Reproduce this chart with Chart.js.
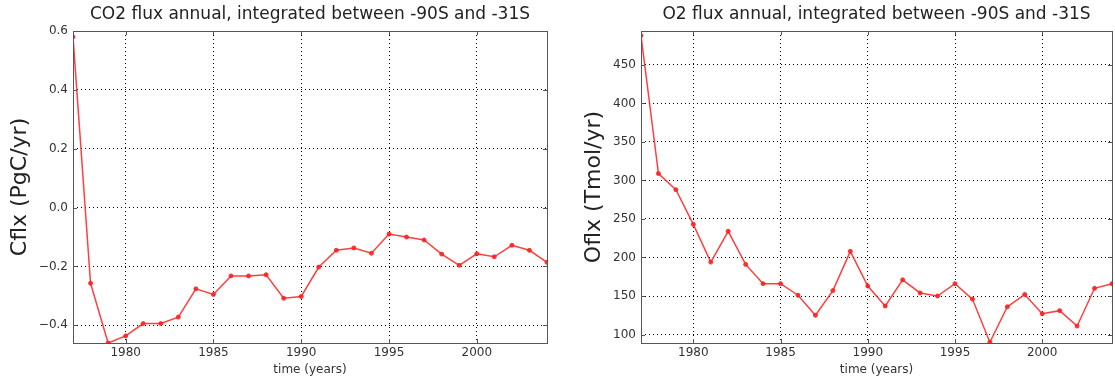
<!DOCTYPE html>
<html>
<head>
<meta charset="utf-8">
<script src="https://cdn.jsdelivr.net/npm/chart.js@4.4.0/dist/chart.umd.min.js"></script>
<style>
  html, body { margin: 0; padding: 0; background: #fff; }
  #wrap { position: relative; width: 1115px; height: 381px; }
  .panel { position: absolute; top: 0; height: 381px; }
</style>
</head>
<body>
<div id="wrap">
  <div class="panel" style="left:0;width:557px"><canvas id="co2Chart"></canvas></div>
  <div class="panel" style="left:557px;width:558px"><canvas id="o2Chart"></canvas></div>
</div>
<script>
// annual fluxes, integrated between -90S and -31S
const years = [1977, 1978, 1979, 1980, 1981, 1982, 1983, 1984, 1985, 1986,
               1987, 1988, 1989, 1990, 1991, 1992, 1993, 1994, 1995, 1996,
               1997, 1998, 1999, 2000, 2001, 2002, 2003, 2004];
const co2Flux = [0.58, -0.257, -0.46, -0.436, -0.394, -0.394, -0.372, -0.276, -0.295, -0.232,
                 -0.232, -0.228, -0.308, -0.302, -0.202, -0.145, -0.137, -0.155, -0.09, -0.1,
                 -0.11, -0.158, -0.196, -0.157, -0.167, -0.128, -0.145, -0.186];
const o2Flux = [488, 309, 288, 243, 194, 234, 191, 166, 166, 151,
                125, 157, 208, 163, 137, 171, 154, 150, 166, 146,
                90, 136, 152, 127, 131, 111, 160, 166];
const yearTicks = [1980, 1985, 1990, 1995, 2000];
const co2Ticks = [-0.4, -0.2, 0.0, 0.2, 0.4, 0.6];
const o2Ticks = [100, 150, 200, 250, 300, 350, 400, 450];

const FONT = 'DejaVu Sans';
const RED = 'rgba(255, 30, 30, 0.85)';

function fmtMinus(v, digits) {
    const s = Math.abs(v).toFixed(digits);
    return v < 0 ? '\u2212' + s : s;
}

// frame, inward tick marks and the panel title
const framePlugin = {
    id: 'frame',
    afterDatasetsDraw(chart, args, opts) {
        const { ctx, chartArea: a, scales } = chart;
        ctx.save();
        ctx.strokeStyle = '#555';
        ctx.lineWidth = 1;
        ctx.beginPath();
        scales.x.ticks.forEach(t => {
            const x = Math.round(scales.x.getPixelForValue(t.value)) + 0.5;
            ctx.moveTo(x, a.top); ctx.lineTo(x, a.top + 4);
            ctx.moveTo(x, a.bottom); ctx.lineTo(x, a.bottom - 4);
        });
        scales.y.ticks.forEach(t => {
            const y = Math.round(scales.y.getPixelForValue(t.value)) + 0.5;
            ctx.moveTo(a.left, y); ctx.lineTo(a.left + 4, y);
            ctx.moveTo(a.right, y); ctx.lineTo(a.right - 4, y);
        });
        ctx.stroke();
        ctx.strokeRect(Math.round(a.left) + 0.5, Math.round(a.top) + 0.5,
                       Math.round(a.right - a.left), Math.round(a.bottom - a.top));
        ctx.fillStyle = '#222';
        ctx.font = '17px "' + FONT + '"';
        ctx.textAlign = 'center';
        ctx.textBaseline = 'middle';
        ctx.fillText(opts.text, (a.left + a.right) / 2, 15);
        ctx.restore();
    }
};

function makeChart(id, values, yTicks, yMin, yMax, digits, yTitle, title, yWidth, titleGap, padRight) {
    return new Chart(document.getElementById(id), {
        type: 'line',
        data: {
            datasets: [{
                data: years.map((yr, i) => ({ x: yr, y: values[i] })),
                borderColor: RED,
                backgroundColor: RED,
                borderWidth: 1.5,
                pointRadius: 2,
                pointHoverRadius: 2,
                pointBorderWidth: 1,
                tension: 0
            }]
        },
        options: {
            responsive: true,
            maintainAspectRatio: false,
            animation: false,
            layout: { padding: { top: 31, right: padRight, left: 0, bottom: 0 } },
            plugins: {
                legend: { display: false },
                tooltip: { enabled: false },
                frame: { text: title }
            },
            scales: {
                x: {
                    type: 'linear',
                    min: 1977,
                    max: 2004,
                    afterBuildTicks: s => { s.ticks = yearTicks.map(v => ({ value: v })); },
                    afterFit: s => { s.height = 38; },
                    grid: { color: '#000', lineWidth: 1, drawTicks: false },
                    border: { display: false, dash: [1, 3] },
                    ticks: {
                        color: '#333', padding: 3, maxRotation: 0,
                        font: { family: FONT, size: 12 },
                        callback: v => String(v)
                    },
                    title: {
                        display: true, text: 'time (years)', color: '#333',
                        font: { family: FONT, size: 12 }, padding: { top: 0, bottom: 4 }
                    }
                },
                y: {
                    min: yMin,
                    max: yMax,
                    afterBuildTicks: s => { s.ticks = yTicks.map(v => ({ value: v })); },
                    afterFit: s => { s.width = yWidth; },
                    grid: { color: '#000', lineWidth: 1, drawTicks: false },
                    border: { display: false, dash: [1, 3] },
                    ticks: {
                        color: '#333', padding: 5,
                        font: { family: FONT, size: 12 },
                        callback: v => fmtMinus(v, digits)
                    },
                    title: {
                        display: true, text: yTitle, color: '#222',
                        font: { family: FONT, size: 22 }, padding: { top: titleGap, bottom: 0 }
                    }
                }
            }
        },
        plugins: [framePlugin]
    });
}

makeChart('co2Chart', co2Flux, co2Ticks, -0.46, 0.6, 1,
          'Cflx (PgC/yr)', 'CO2 flux annual, integrated between -90S and -31S', 73, 7, 10);
makeChart('o2Chart', o2Flux, o2Ticks, 89, 494, 0,
          'Oflx (Tmol/yr)', 'O2 flux annual, integrated between -90S and -31S', 84, 24, 1);
</script>
</body>
</html>
